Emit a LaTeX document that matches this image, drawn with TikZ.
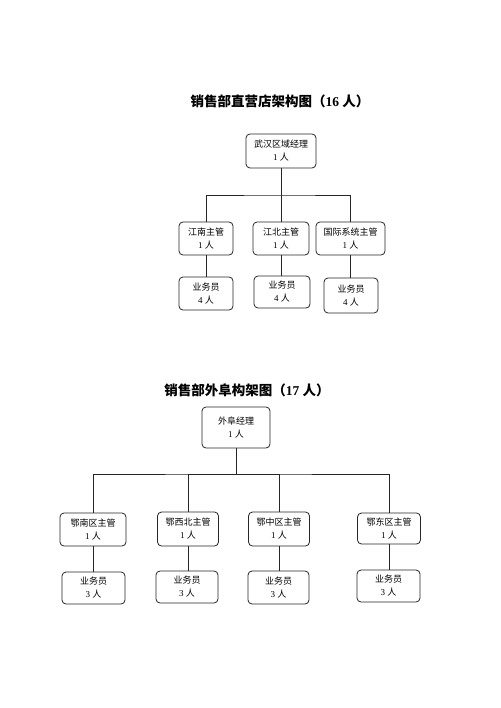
\documentclass[tikz,border=0pt]{standalone}
\usepackage{fontspec}
\setmainfont{Liberation Serif}
\newfontfamily\cjk{Noto Sans CJK SC}
\newcommand\zh[1]{{\cjk #1}}
\begin{document}
\begin{tikzpicture}[x=1pt,y=-1pt,
  box/.style={draw=black!85, line width=0.8pt, rounded corners=4pt, align=center, inner sep=0pt,
    font=\fontsize{9}{13}\selectfont},
  ttl/.style={font=\fontsize{13.5}{15}\selectfont\bfseries, inner sep=0pt},
  conn/.style={draw=black!85, line width=0.8pt}]
\useasboundingbox[fill=white] (0,0) rectangle (500,708);
% ---- upper chart
\node[ttl] (t1) at (280,101) {\zh{\bfseries 销售部直营店架构图（}16 \zh{\bfseries 人）}};
\node[box, minimum width=70pt, minimum height=34pt] (m) at (281,151) {\zh{武汉区域经理}\\1 \zh{人}};
\node[box, minimum width=54pt, minimum height=33pt] (a1) at (206,238.5) {\zh{江南主管}\\1 \zh{人}};
\node[box, minimum width=56pt, minimum height=33pt] (a2) at (281,238.5) {\zh{江北主管}\\1 \zh{人}};
\node[box, minimum width=69pt, minimum height=33pt] (a3) at (350.5,238.5) {\zh{国际系统主管}\\1 \zh{人}};
\node[box, minimum width=54pt, minimum height=33pt] (b1) at (206,293.5) {\zh{业务员}\\4 \zh{人}};
\node[box, minimum width=56pt, minimum height=32pt] (b2) at (282,292) {\zh{业务员}\\4 \zh{人}};
\node[box, minimum width=54pt, minimum height=35pt] (b3) at (351,295.5) {\zh{业务员}\\4 \zh{人}};
\coordinate (j) at (281,195);
\draw[conn] (m.south) -- (j);
\draw[conn] (a1.north) |- (j) -| (a3.north);
\draw[conn] (a2.north) -- (j);
\draw[conn] (a1.south) -- (a1.south |- b1.north);
\draw[conn] (a2.south) -- (a2.south |- b2.north);
\draw[conn] (a3.south) -- (a3.south |- b3.north);
% ---- lower chart
\node[ttl] (t2) at (247,390) {\zh{\bfseries 销售部外阜构架图（}17 \zh{\bfseries 人）}};
\node[box, minimum width=68pt, minimum height=41pt] (M) at (236,427.5) {\zh{外阜经理}\\1 \zh{人}};
\node[box, minimum width=66pt, minimum height=33pt] (A1) at (93,529.5) {\zh{鄂南区主管}\\1 \zh{人}};
\node[box, minimum width=61pt, minimum height=34pt] (A2) at (188,529) {\zh{鄂西北主管}\\1 \zh{人}};
\node[box, minimum width=61pt, minimum height=34pt] (A3) at (279,529) {\zh{鄂中区主管}\\1 \zh{人}};
\node[box, minimum width=63pt, minimum height=31pt] (A4) at (389,528.5) {\zh{鄂东区主管}\\1 \zh{人}};
\node[box, minimum width=63pt, minimum height=32pt] (B1) at (93.5,588) {\zh{业务员}\\3 \zh{人}};
\node[box, minimum width=62pt, minimum height=32pt] (B2) at (187,587) {\zh{业务员}\\3 \zh{人}};
\node[box, minimum width=61pt, minimum height=33pt] (B3) at (278.5,587.5) {\zh{业务员}\\3 \zh{人}};
\node[box, minimum width=63pt, minimum height=32pt] (B4) at (388.5,586) {\zh{业务员}\\3 \zh{人}};
\coordinate (J) at (236,474);
\draw[conn] (M.south) -- (J);
\draw[conn] (A1.north) |- (J) -| (A4.north);
\draw[conn] (A2.north) |- (J);
\draw[conn] (A3.north) |- (J);
\draw[conn] (A1.south) -- (A1.south |- B1.north);
\draw[conn] (A2.south) -- (A2.south |- B2.north);
\draw[conn] (A3.south) -- (A3.south |- B3.north);
\draw[conn] (A4.south) -- (A4.south |- B4.north);
\end{tikzpicture}
\end{document}
